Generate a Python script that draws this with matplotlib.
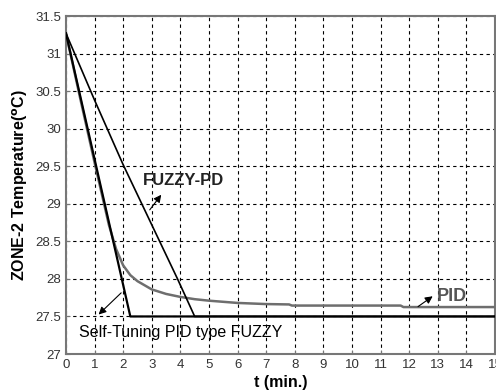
"""ZONE-2 temperature response: PID vs FUZZY-PD vs self-tuning PID type fuzzy."""
import matplotlib
matplotlib.use("Agg")
import matplotlib.pyplot as plt

plt.rcParams["font.family"] = ["Liberation Sans", "DejaVu Sans"]

# self-tuning PID type FUZZY
st_t = [0, 2.25, 15]
st_y = [31.27, 27.5, 27.5]

# FUZZY-PD
fpd_t = [0, 1.0, 2.0, 3.0, 3.9, 4.5, 15]
fpd_y = [31.27, 30.38, 29.52, 28.72, 28.0, 27.5, 27.5]

# PID
pid_t = [0, 0.5, 1.0, 1.5, 1.75, 2.0, 2.25, 2.5, 3.0, 3.5, 4.0, 4.5, 5, 6, 7,
         7.8, 7.9, 11.7, 11.8, 15]
pid_y = [31.27, 30.4, 29.55, 28.72, 28.4, 28.18, 28.05, 27.97, 27.86, 27.8,
         27.76, 27.73, 27.71, 27.68, 27.665, 27.66, 27.645, 27.645, 27.625, 27.625]

xticks = list(range(0, 16))
yticks = [27, 27.5, 28, 28.5, 29, 29.5, 30, 30.5, 31, 31.5]
ytick_labels = ["27", "27.5", "28", "28.5", "29", "29.5", "30", "30.5", "31", "31.5"]

fig = plt.figure(figsize=(4.96, 3.91), dpi=100)
ax = fig.add_axes([0.133, 0.0946, 0.865, 0.8644])

ax.plot(pid_t, pid_y, color="#6e6e6e", lw=1.8, zorder=3)
ax.plot(fpd_t, fpd_y, color="black", lw=1.2, zorder=4)
ax.plot(st_t, st_y, color="black", lw=1.6, zorder=5)

ax.set_xlim(0, 15)
ax.set_ylim(27, 31.5)
ax.set_xticks(xticks)
ax.set_yticks(yticks)
ax.set_yticklabels(ytick_labels)
ax.grid(True, color="black", linestyle=(0, (3, 3)), linewidth=0.8)
ax.tick_params(direction="in", length=3, labelsize=9.5, labelcolor="#333333",
               color="#777777")
for s in ax.spines.values():
    s.set_color("#777777")
    s.set_linewidth(1.5)

ax.set_xlabel("t (min.)", fontsize=11.5, fontweight="bold", labelpad=3)
ax.set_ylabel(r"ZONE-2 Temperature($^\mathbf{o}$C)", fontsize=11.5,
              fontweight="bold", labelpad=4)

arrow = dict(arrowstyle="-|>", color="black", lw=0.8, mutation_scale=11)

ax.annotate("", xy=(3.39, 29.15), xytext=(2.87, 28.89), arrowprops=arrow)
ax.text(4.1, 29.31, "FUZZY-PD", fontsize=12, fontweight="bold",
        ha="center", va="center", color="#222222")

ax.annotate("", xy=(12.9, 27.79), xytext=(12.23, 27.61), arrowprops=arrow)
ax.text(12.95, 27.77, "PID", fontsize=13, fontweight="bold",
        ha="left", va="center", color="#555555")

ax.annotate("", xy=(1.07, 27.5), xytext=(2.0, 27.84), arrowprops=arrow)
ax.text(0.45, 27.29, "Self-Tuning PID type FUZZY", fontsize=11.5,
        ha="left", va="center", color="black")

fig.savefig("out.png", dpi=100)
